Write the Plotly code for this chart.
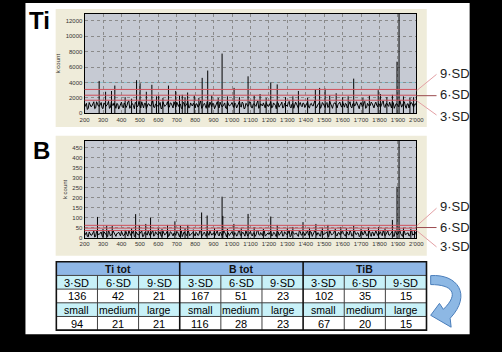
import plotly.graph_objects as go

W, H = 502, 352
FONT = "Liberation Sans, Arial, sans-serif"

# ---------------- data ----------------
mz_step = list(range(200, 2001, 10))
mz_mid = list(range(205, 2000, 10))

ti_noise = [
    800,1300,650,1150,950,1500,700,1200,900,1400,600,1250,1000,1550,750,1100,1350,650,1200,900,
    1450,700,1150,1000,1600,800,1250,600,1350,950,1100,1500,700,1300,850,1200,1000,1650,750,1150,
    900,1400,650,1250,1050,1500,800,1300,700,1150,1450,900,1200,600,1350,1000,1550,750,1100,1300,
    700,1200,950,1600,800,1300,650,1150,1450,850,1250,1000,1500,700,1200,900,1350,600,1250,1050,
    1400,750,1150,950,1550,800,1300,650,1200,1000,1450,700,1250,900,1600,850,1100,1350,700,1200,
    950,1500,800,1250,600,1350,1050,1450,750,1150,900,1550,700,1300,1000,1200,650,1400,850,1250,
    1100,1500,700,1300,950,1650,800,1200,650,1400,1000,1250,750,1550,900,1150,1350,700,1250,1000,
    1450,800,1200,950,1500,700,1350,1050,1250,600,1400,900,1550,750,1150,1000,1300,700,1450,850,
    1200,1000,1600,750,1300,900,1150,1500,650,1250,1050,1700,800,1350,950,1200,700,1400,900,1150,
    1000]
ti_noise_mid = [
    1100,500,1400,850,1250,600,1500,950,1150,700,1350,900,1200,650,1450,1000,800,1300,550,1250,
    900,1350,750,1500,650,1200,1000,1400,850,1550,700,1100,1300,600,1250,950,1450,800,1200,1000,
    1300,600,1450,900,1150,700,1350,1050,1500,800,1000,1250,650,1400,900,1200,700,1350,950,1100,
    1250,800,1400,650,1150,1000,1500,750,1100,1300,600,1200,900,1450,850,1250,700,1500,950,1150,
    850,1350,700,1250,1000,1450,600,1300,900,1500,750,1200,1050,1350,650,1250,950,800,1400,900,
    1200,700,1350,1050,1450,800,1150,700,1300,950,1400,850,1200,650,1450,900,1250,1000,1350,750,
    1300,800,1200,1000,1350,700,1150,1450,900,1250,750,1400,1000,1200,650,1350,850,1150,1450,800,
    1100,1300,700,1400,850,1250,950,1500,800,1200,1000,1350,650,1300,900,1450,800,1200,1050,1300,
    800,1400,900,1250,1050,1450,700,1350,1000,1200,850,1300,1100,1500,650,1250,1000,1350,800,1250]

b_noise = [
    12,28,6,22,15,34,9,25,18,30,5,24,14,36,10,20,27,8,23,16,
    33,11,21,17,38,13,26,7,29,15,22,35,9,27,14,24,18,39,12,21,
    16,31,8,25,19,36,12,28,10,22,33,15,24,7,30,18,37,11,20,27,
    9,23,16,38,13,29,8,21,34,14,26,17,36,10,24,15,31,6,25,19,
    32,11,22,16,37,12,28,9,24,17,33,10,26,15,39,13,21,30,9,23,
    17,35,12,26,7,31,19,34,11,22,15,38,10,28,18,24,8,32,14,25,
    20,36,10,29,16,40,13,24,9,33,18,26,11,37,15,22,30,10,27,17,
    34,12,24,16,36,9,30,19,26,7,32,14,38,11,23,18,29,10,35,13,
    25,17,39,11,29,15,22,35,8,27,19,41,12,31,16,24,10,33,14,22,
    15]
b_noise_mid = [
    20,8,30,13,26,4,33,17,24,11,31,19,7,28,15,35,12,22,29,10,
    25,14,32,9,27,18,36,11,23,16,30,6,26,20,34,12,28,9,31,17,
    22,10,34,15,27,8,31,19,25,13,29,6,35,16,23,11,30,18,26,14,
    28,12,35,9,24,17,33,13,27,20,8,32,15,29,11,37,19,23,12,30,
    16,27,9,34,14,26,19,36,10,29,15,24,8,33,18,27,12,35,16,25,
    30,10,28,16,35,13,25,9,31,18,27,6,33,20,23,12,36,15,29,11,
    24,14,33,8,29,19,26,11,37,15,22,30,7,28,18,34,13,25,16,32,
    21,9,30,15,27,12,35,17,24,10,32,19,26,13,36,8,28,20,25,14,
    31,11,27,18,36,13,25,9,33,16,29,21,8,34,19,26,12,37,17,28]

ti_peak_mz = [279, 314, 346, 364, 482, 501, 535, 565, 602, 655, 694, 730, 759, 795, 838, 868, 946,
              1011, 1087, 1152, 1210, 1245, 1360, 1452, 1475, 1505, 1565, 1660, 1793, 1805, 1870,
              1895, 1906,
              420, 455, 590, 625, 715, 745, 820, 890, 925, 975, 1040, 1120, 1185, 1290, 1330, 1410,
              1530, 1600, 1630, 1710, 1745, 1840, 1930, 1965, 1985]
ti_peak_h = [4200, 2800, 2900, 3600, 4300, 3900, 2800, 3700, 2300, 3600, 2900, 2400, 2700, 2300, 4600,
             5550, 7750, 3300, 4800, 2500, 4000, 3750, 2900, 3100, 3300, 3200, 2600, 4500, 3000, 2500,
             2400, 6700, 13500,
             2100, 1900, 2200, 2000, 2300, 2100, 2000, 2300, 2000, 2200, 2100, 2300, 2000, 2100, 2200,
             2000, 2300, 2100, 2200, 2000, 2300, 2100, 2200, 2000, 2100]

b_peak_mz = [270, 320, 350, 477, 497, 532, 558, 650, 690, 720, 760, 835, 865, 946, 950, 1010, 1087,
             1210, 1245, 1385, 1455, 1520, 1590, 1660, 1795, 1870, 1895, 1906,
             300, 420, 455, 600, 620, 745, 790, 905, 975, 1050, 1120, 1170, 1300, 1330, 1420, 1490,
             1560, 1620, 1700, 1740, 1830, 1930, 1970, 1990]
b_peak_h = [105, 61, 60, 119, 65, 70, 102, 65, 83, 60, 65, 127, 112, 206, 110, 70, 120,
            107, 65, 79, 70, 65, 55, 60, 55, 90, 256, 520,
            45, 40, 48, 50, 45, 48, 42, 50, 45, 48, 52, 45, 50, 55, 48, 52,
            46, 50, 45, 52, 48, 50, 45, 40]

ti_sd = [1700, 2350, 3100]      # 3SD, 6SD, 9SD
b_sd = [37, 49, 63]
sd_names = ["3·SD", "6·SD", "9·SD"]

x_tickvals = list(range(200, 2001, 100))
x_ticktext = ["200", "300", "400", "500", "600", "700", "800", "900", "1'000", "1'100", "1'200",
              "1'300", "1'400", "1'500", "1'600", "1'700", "1'800", "1'900", "2'000"]
ti_ytick = [0, 2000, 4000, 6000, 8000, 10000, 12000]
ti_yticktext = ["0", "2000", "4000", "6000", "8000", "10000", "12000"]
b_ytick = [0, 50, 100, 150, 200, 250, 300, 350, 400, 450]

groups = ["Ti tot", "B tot", "TiB"]
size_labels = ["small", "medium", "large"]
sd_counts = [[136, 42, 21], [167, 51, 23], [102, 35, 15]]
size_counts = [[94, 21, 21], [116, 28, 23], [67, 20, 15]]


# ---------------- helpers ----------------
def px(x):
    return x / W


def py(y):
    return 1 - y / H


def rect(x0, y0, x1, y1, fill, line=None, lw=0, layer="below"):
    return dict(type="rect", xref="paper", yref="paper", x0=px(x0), x1=px(x1),
                y0=py(y1), y1=py(y0), fillcolor=fill, layer=layer,
                line=dict(color=line or fill, width=lw))


def seg(x0, y0, x1, y1, color, lw=1):
    return dict(type="line", xref="paper", yref="paper", x0=px(x0), x1=px(x1),
                y0=py(y0), y1=py(y1), line=dict(color=color, width=lw), layer="above")


def spikes(mz, h):
    xs, ys = [], []
    for m, v in zip(mz, h):
        xs += [m, m, None]
        ys += [0, v, None]
    return xs, ys


def merge(xa, ya, xb, yb):
    pts = sorted(list(zip(xa, ya)) + list(zip(xb, yb)))
    return [p[0] for p in pts], [p[1] for p in pts]


fig = go.Figure()

nx, ny = merge(mz_step, ti_noise, mz_mid, ti_noise_mid)
fig.add_trace(go.Scatter(x=nx, y=ny, mode="lines", line=dict(color="black", width=1),
                         xaxis="x", yaxis="y", hoverinfo="skip"))
sx, sy = spikes(ti_peak_mz, ti_peak_h)
fig.add_trace(go.Scatter(x=sx, y=sy, mode="lines", line=dict(color="black", width=1),
                         xaxis="x", yaxis="y", hoverinfo="skip"))
nx, ny = merge(mz_step, b_noise, mz_mid, b_noise_mid)
fig.add_trace(go.Scatter(x=nx, y=ny, mode="lines", line=dict(color="black", width=1),
                         xaxis="x2", yaxis="y2", hoverinfo="skip"))
sx, sy = spikes(b_peak_mz, b_peak_h)
fig.add_trace(go.Scatter(x=sx, y=sy, mode="lines", line=dict(color="black", width=1),
                         xaxis="x2", yaxis="y2", hoverinfo="skip"))

shapes = []
# panels
shapes.append(rect(21, 3, 477, 337, "white"))
shapes.append(rect(52, 9, 433, 128, "#EFECDA"))
shapes.append(rect(52, 137, 433, 258, "#EFECDA"))
shapes.append(rect(81.7, 14, 422.3, 114.3, "#C6CAD3"))
shapes.append(rect(81.7, 142, 422.3, 240, "#C6CAD3"))

# teal line on Ti at 4000
shapes.append(dict(type="line", xref="x domain", yref="y", x0=0, x1=1, y0=4000, y1=4000,
                   line=dict(color="#8EC3CF", width=1), layer="below"))

# SD lines
for v in ti_sd:
    shapes.append(dict(type="line", xref="x domain", yref="y", x0=0, x1=1, y0=v, y1=v,
                       line=dict(color="#D0505A", width=1), layer="above"))
for v in b_sd:
    shapes.append(dict(type="line", xref="x2 domain", yref="y2", x0=0, x1=1, y0=v, y1=v,
                       line=dict(color="#D0505A", width=1), layer="above"))

# leader lines
shapes += [seg(422.5, 91.5, 443, 75, "#E3A0A4"), seg(422.5, 96.5, 443, 96.5, "#9A4A4E"),
           seg(422.5, 101.5, 443, 116, "#E3A0A4")]
shapes += [seg(422.5, 228, 443, 210, "#E3A0A4"), seg(422.5, 229.5, 443, 229.5, "#9A4A4E"),
           seg(422.5, 232.5, 443, 249, "#E3A0A4")]

# table
tx0, tx1 = 52.7, 432.7
row_y = [264, 277.8, 291.6, 305.4, 319.2, 333]
cw = (tx1 - tx0) / 9
row_fill = ["#8FB7E6", "#C8F1F8", "white", "#C8F1F8", "white"]
for r in range(5):
    shapes.append(rect(tx0, row_y[r], tx1, row_y[r + 1], row_fill[r], layer="below"))
for r in range(1, 5):
    shapes.append(seg(tx0, row_y[r], tx1, row_y[r], "#404040", 1))
for c in range(1, 9):
    if c % 3:
        shapes.append(seg(tx0 + c * cw, row_y[1], tx0 + c * cw, row_y[5], "#404040", 1))
    else:
        shapes.append(seg(tx0 + c * cw, row_y[0], tx0 + c * cw, row_y[5], "#111111", 1.6))
shapes.append(dict(type="rect", xref="paper", yref="paper", x0=px(tx0), x1=px(tx1),
                   y0=py(row_y[5]), y1=py(row_y[0]), line=dict(color="#111111", width=1.6),
                   layer="above"))

# curved arrow
arrow = [("M", [(437, 278)]), ("C", [(464, 276), (480, 297), (457, 321)]), ("L", [(458, 330)]),
         ("L", [(437, 318)]), ("L", [(446, 306)]), ("L", [(450, 312)]),
         ("C", [(467, 296), (459, 287), (437, 287)])]
path = ""
for cmd, pts in arrow:
    path += cmd + " " + " ".join(f"{px(a):.5f},{py(b):.5f}" for a, b in pts) + " "
path += "Z"
shapes.append(dict(type="path", xref="paper", yref="paper", path=path,
                   fillcolor="#8DB8E4", line=dict(color="#4A7EBB", width=1), layer="above"))

ann = []


def text(x, y, s, size, bold=False, color="black", xanchor="center"):
    ann.append(dict(xref="paper", yref="paper", x=px(x), y=py(y), text=f"<b>{s}</b>" if bold else s,
                    showarrow=False, xanchor=xanchor, yanchor="middle",
                    font=dict(family=FONT, size=size, color=color)))


text(35, 21, "Ti", 24, bold=True)
text(37, 152, "B", 24, bold=True)
for (yy, name) in zip([117, 95, 74], sd_names):
    text(444, yy, name, 13, xanchor="left", color="#222")
for (yy, name) in zip([249, 229, 208], sd_names):
    text(444, yy, name, 13, xanchor="left", color="#222")

for g in range(3):
    cx = tx0 + (g * 3 + 1.5) * cw
    text(cx, (row_y[0] + row_y[1]) / 2 + 0.5, groups[g], 10.5, bold=True, color="#111")
    for k in range(3):
        cx = tx0 + (g * 3 + k + 0.5) * cw
        text(cx, (row_y[1] + row_y[2]) / 2 + 0.5, sd_names[k], 11)
        text(cx, (row_y[2] + row_y[3]) / 2 + 0.5, str(sd_counts[g][k]), 11)
        text(cx, (row_y[3] + row_y[4]) / 2 + 0.5, size_labels[k], 10.5)
        text(cx, (row_y[4] + row_y[5]) / 2 + 0.5, str(size_counts[g][k]), 11)

axis_common = dict(showline=True, linecolor="black", linewidth=1, mirror=True, ticks="",
                   showgrid=True, gridcolor="#8A8A8A", griddash="dot", gridwidth=1,
                   zeroline=False, tickfont=dict(family=FONT, size=6, color="#333"))

fig.update_layout(
    width=W, height=H, margin=dict(l=0, r=0, t=0, b=0),
    paper_bgcolor="black", plot_bgcolor="rgba(0,0,0,0)", showlegend=False,
    xaxis=dict(domain=[px(81.7), px(422.3)], range=[200, 2000], anchor="y",
               tickvals=x_tickvals, ticktext=x_ticktext, **axis_common),
    yaxis=dict(domain=[py(114.3), py(14)], range=[0, 12900], anchor="x", tickvals=ti_ytick,
               ticktext=ti_yticktext,
               title=dict(text="k count", font=dict(family=FONT, size=6, color="#333"), standoff=4),
               **axis_common),
    xaxis2=dict(domain=[px(81.7), px(422.3)], range=[200, 2000], anchor="y2",
                tickvals=x_tickvals, ticktext=x_ticktext, **axis_common),
    yaxis2=dict(domain=[py(240), py(142)], range=[0, 485], anchor="x2", tickvals=b_ytick,
                title=dict(text="k count", font=dict(family=FONT, size=6, color="#333"), standoff=4),
                **axis_common),
    shapes=shapes, annotations=ann,
)

fig.write_html("out.html")
